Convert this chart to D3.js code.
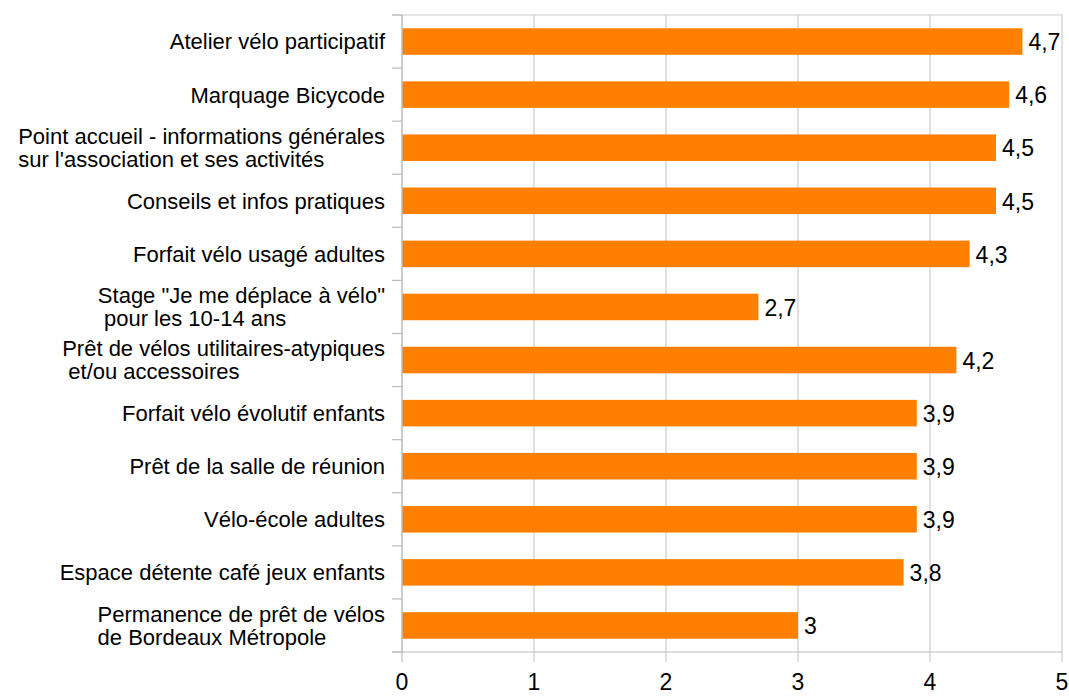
<!DOCTYPE html>
<html>
<head>
<meta charset="utf-8">
<script src="https://cdn.jsdelivr.net/npm/d3@7"></script>
<style>
  body { margin: 0; background: #fff; }
  text { font-family: "Liberation Sans", Arial, sans-serif; fill: #000; }
</style>
</head>
<body>
<div class="chart"></div>
<script>
// categories top to bottom, each one is a list of lines
var categories = [
  ["Atelier vélo participatif"],
  ["Marquage Bicycode"],
  ["Point accueil - informations générales", "sur l'association et ses activités"],
  ["Conseils et infos pratiques"],
  ["Forfait vélo usagé adultes"],
  ["Stage \"Je me déplace à vélo\"", " pour les 10-14 ans"],
  ["Prêt de vélos utilitaires-atypiques", " et/ou accessoires"],
  ["Forfait vélo évolutif enfants"],
  ["Prêt de la salle de réunion"],
  ["Vélo-école adultes"],
  ["Espace détente café jeux enfants"],
  ["Permanence de prêt de vélos", "de Bordeaux Métropole"]
];
var values = [4.7, 4.6, 4.5, 4.5, 4.3, 2.7, 4.2, 3.9, 3.9, 3.9, 3.8, 3];
var xTicks = [0, 1, 2, 3, 4, 5];

var svgWidth = 1069, svgHeight = 696;
var margin = { top: 15, left: 402, right: 7, bottom: 44 };
var width = svgWidth - margin.left - margin.right;
var height = svgHeight - margin.top - margin.bottom;

var svg = d3.select(".chart").append("svg")
  .attr("width", svgWidth)
  .attr("height", svgHeight);

var chartGroup = svg.append("g")
  .attr("transform", `translate(${margin.left}, ${margin.top})`);

var xScale = d3.scaleLinear().domain([0, 5]).range([0, width]);
var idx = d3.range(categories.length);
var yScale = d3.scaleBand().domain(idx).range([0, height]).paddingInner(0.5).paddingOuter(0.25);
var step = yScale.step();

// vertical gridlines
chartGroup.selectAll(".grid")
  .data(xTicks.slice(1))
  .enter().append("line")
  .attr("x1", d => xScale(d)).attr("x2", d => xScale(d))
  .attr("y1", 0).attr("y2", height + 10)
  .attr("stroke", "#cccccc").attr("stroke-width", 1.2);

// top line
chartGroup.append("line")
  .attr("x1", -10).attr("x2", width)
  .attr("y1", 0).attr("y2", 0)
  .attr("stroke", "#cccccc").attr("stroke-width", 1.2);

// category boundary ticks
chartGroup.selectAll(".ytick")
  .data(d3.range(categories.length + 1))
  .enter().append("line")
  .attr("x1", -10).attr("x2", 0)
  .attr("y1", d => d * step).attr("y2", d => d * step)
  .attr("stroke", "#bbbbbb").attr("stroke-width", 1.2);

// bottom axis line
chartGroup.append("line")
  .attr("x1", -10).attr("x2", width)
  .attr("y1", height).attr("y2", height)
  .attr("stroke", "#bbbbbb").attr("stroke-width", 1.2);

// x tick at 0
chartGroup.append("line")
  .attr("x1", 0).attr("x2", 0)
  .attr("y1", height).attr("y2", height + 10)
  .attr("stroke", "#bbbbbb").attr("stroke-width", 1.2);

// bars
chartGroup.selectAll(".bar")
  .data(values)
  .enter().append("rect")
  .attr("x", 0)
  .attr("y", (d, i) => yScale(i))
  .attr("width", d => xScale(d))
  .attr("height", yScale.bandwidth())
  .attr("fill", "#ff8000");

// y axis line
chartGroup.append("line")
  .attr("x1", 0).attr("x2", 0)
  .attr("y1", 0).attr("y2", height)
  .attr("stroke", "#bbbbbb").attr("stroke-width", 1.5);

// value labels
chartGroup.selectAll(".val")
  .data(values)
  .enter().append("text")
  .attr("x", d => xScale(d) + 6)
  .attr("y", (d, i) => yScale(i) + yScale.bandwidth() / 2)
  .attr("dy", "0.38em")
  .attr("font-size", 23)
  .text(d => String(d).replace(".", ","));

// x tick labels
chartGroup.selectAll(".xlab")
  .data(xTicks)
  .enter().append("text")
  .attr("x", d => xScale(d))
  .attr("y", height + 38)
  .attr("text-anchor", "middle")
  .attr("font-size", 23)
  .text(d => d);

// category labels: block right aligned, lines left aligned inside
var labelRight = -17;
categories.forEach(function(lines, i) {
  var cy = yScale(i) + yScale.bandwidth() / 2;
  var lineH = 23;
  var g = chartGroup.append("g");
  var texts = lines.map(function(line, j) {
    return g.append("text")
      .attr("font-size", 22)
      .attr("y", cy + (j - (lines.length - 1) / 2) * lineH)
      .attr("dy", "0.36em")
      .style("white-space", "pre")
      .text(line);
  });
  if (lines.length === 1) {
    texts[0].attr("x", labelRight).attr("text-anchor", "end");
  } else {
    var maxW = d3.max(texts, t => t.node().getComputedTextLength());
    texts.forEach(t => t.attr("x", labelRight - maxW));
  }
});
</script>
</body>
</html>
